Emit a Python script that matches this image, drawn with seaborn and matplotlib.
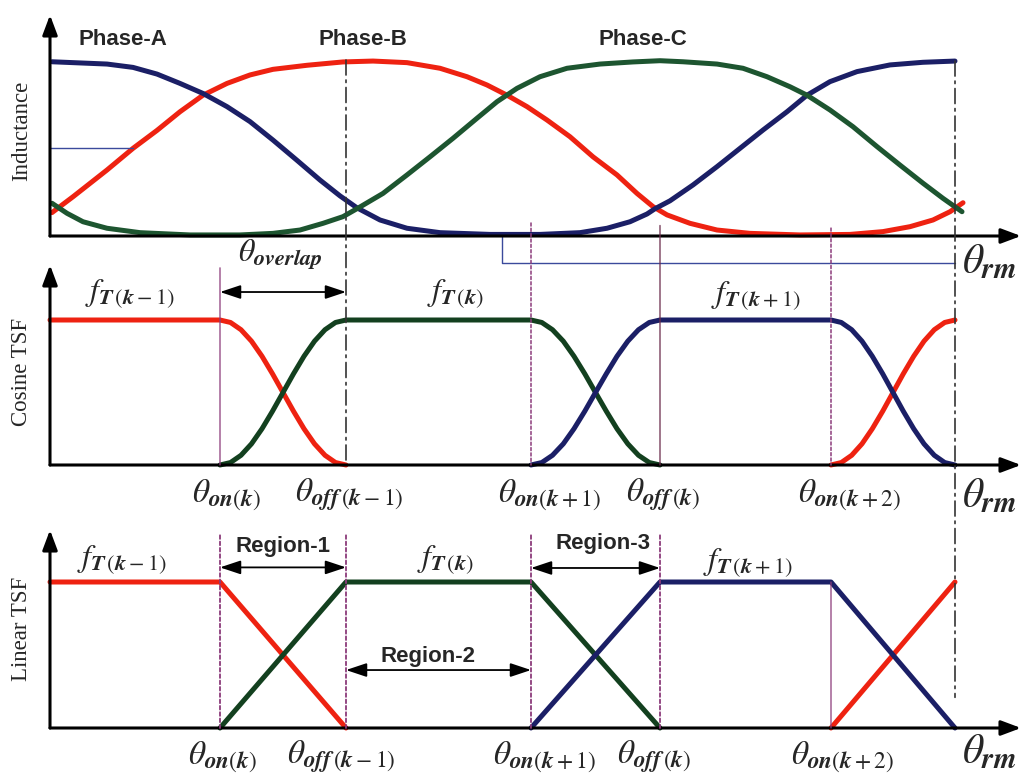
import matplotlib
matplotlib.use("Agg")
import matplotlib.pyplot as plt
from matplotlib.patches import ConnectionPatch
import seaborn as sns

sns.set_style("white")
plt.rcParams["font.family"] = ["Liberation Sans", "DejaVu Sans"]
plt.rcParams["mathtext.fontset"] = "stix"

RED = "#ee2211"
GREEN_TOP = "#1d5530"
GREEN = "#13401f"
NAVY = "#1b1f66"
PURPLE = "#8b3a7a"
GUIDE = "#3b4a9c"
LW = 3.6

# switching angles (mechanical degrees)
TH_ON_K = 17.0
TH_OFF_KM1 = 29.6
TH_ON_K1 = 48.1
TH_OFF_K = 61.0
TH_ON_K2 = 78.1
TH_END = 90.5
X_MAX = 97.1

# ---- phase inductance profiles (normalised) ----
ind_a_x = [0.2, 2.3, 5.7, 8.3, 10.7, 13.0, 15.3, 17.7, 20.0, 22.3, 24.7, 27.0, 29.0, 30.7,
           33.0, 35.7, 39.0, 44.0, 49.0, 53.0, 55.7, 58.0, 59.7, 60.5, 62.0, 64.3, 66.7,
           69.0, 71.3, 73.7, 75.7, 78.0, 80.7, 84.0, 87.3, 90.5]
ind_a_y = [0.99, 0.985, 0.977, 0.958, 0.92, 0.867, 0.81, 0.735, 0.65, 0.545, 0.43, 0.318,
           0.228, 0.16, 0.091, 0.044, 0.019, 0.009, 0.009, 0.019, 0.044, 0.081, 0.125, 0.155,
           0.20, 0.29, 0.394, 0.498, 0.602, 0.706, 0.80, 0.877, 0.934, 0.972, 0.987, 0.994]

ind_b_x = [0.2, 2.3, 5.7, 8.3, 10.7, 13.0, 15.3, 17.7, 20.0, 22.3, 25.7, 29.3, 32.3, 35.7,
           39.0, 41.7, 43.7, 45.7, 47.7, 49.7, 52.0, 54.3, 56.7, 58.7, 60.3, 61.7, 64.0,
           66.7, 70.0, 75.0, 80.0, 83.3, 86.0, 88.3, 90.0, 91.3]
ind_b_y = [0.133, 0.223, 0.375, 0.498, 0.60, 0.706, 0.80, 0.867, 0.915, 0.947, 0.97, 0.989,
           0.994, 0.985, 0.953, 0.905, 0.858, 0.80, 0.735, 0.659, 0.564, 0.45, 0.347, 0.242,
           0.167, 0.12, 0.072, 0.034, 0.015, 0.006, 0.009, 0.025, 0.053, 0.091, 0.138, 0.189]

ind_c_x = [0.2, 1.7, 3.3, 5.7, 9.0, 14.0, 19.0, 22.3, 25.0, 27.3, 29.3, 31.0, 33.3, 35.7,
           38.0, 40.3, 42.7, 44.7, 46.7, 49.0, 51.7, 55.0, 58.3, 61.0, 63.3, 66.7, 69.3,
           71.7, 74.0, 75.7, 78.0, 80.3, 82.7, 85.0, 87.3, 89.3, 91.2]
ind_c_y = [0.186, 0.129, 0.081, 0.044, 0.019, 0.006, 0.006, 0.015, 0.034, 0.072, 0.11, 0.165,
           0.242, 0.347, 0.45, 0.555, 0.669, 0.763, 0.839, 0.905, 0.953, 0.977, 0.989, 0.996,
           0.99, 0.977, 0.953, 0.905, 0.848, 0.80, 0.716, 0.621, 0.508, 0.403, 0.30, 0.214,
           0.138]

# ---- cosine torque sharing functions ----
cos_prev_x = [0.0, 17.0, 18.05, 19.1, 20.15, 21.2, 22.25, 23.3, 24.35, 25.4, 26.45, 27.5,
              28.55, 29.6]
cos_prev_y = [1.0, 1.0, 0.983, 0.933, 0.854, 0.75, 0.629, 0.5, 0.371, 0.25, 0.146, 0.067,
              0.017, 0.0]
cos_next2_x = [78.1, 79.13, 80.17, 81.2, 82.23, 83.27, 84.3, 85.33, 86.37, 87.4, 88.43,
               89.47, 90.5]
cos_next2_y = [0.0, 0.017, 0.067, 0.146, 0.25, 0.371, 0.5, 0.629, 0.75, 0.854, 0.933,
               0.983, 1.0]
cos_k_x = [17.0, 18.05, 19.1, 20.15, 21.2, 22.25, 23.3, 24.35, 25.4, 26.45, 27.5, 28.55, 29.6,
           48.1, 49.18, 50.25, 51.33, 52.4, 53.48, 54.55, 55.63, 56.7, 57.78, 58.85, 59.93, 61.0]
cos_k_y = [0.0, 0.017, 0.067, 0.146, 0.25, 0.371, 0.5, 0.629, 0.75, 0.854, 0.933, 0.983, 1.0,
           1.0, 0.983, 0.933, 0.854, 0.75, 0.629, 0.5, 0.371, 0.25, 0.146, 0.067, 0.017, 0.0]
cos_k1_x = [48.1, 49.18, 50.25, 51.33, 52.4, 53.48, 54.55, 55.63, 56.7, 57.78, 58.85, 59.93,
            61.0, 78.1, 79.13, 80.17, 81.2, 82.23, 83.27, 84.3, 85.33, 86.37, 87.4, 88.43,
            89.47, 90.5]
cos_k1_y = [0.0, 0.017, 0.067, 0.146, 0.25, 0.371, 0.5, 0.629, 0.75, 0.854, 0.933, 0.983, 1.0,
            1.0, 0.983, 0.933, 0.854, 0.75, 0.629, 0.5, 0.371, 0.25, 0.146, 0.067, 0.017, 0.0]

# ---- linear torque sharing functions ----
lin_prev_x = [0.0, 17.0, 29.6]
lin_prev_y = [1.0, 1.0, 0.0]
lin_next2_x = [78.1, 90.5]
lin_next2_y = [0.0, 1.0]
lin_k_x = [17.0, 29.6, 48.1, 61.0]
lin_k_y = [0.0, 1.0, 1.0, 0.0]
lin_k1_x = [48.1, 61.0, 78.1, 90.5]
lin_k1_y = [0.0, 1.0, 1.0, 0.0]

phase_names = ["Phase-A", "Phase-B", "Phase-C"]
phase_label_x = [7.3, 31.3, 59.3]
panel_labels = ["Inductance", "Cosine TSF", "Linear TSF"]
angle_labels = [r"$\theta_{\mathbfit{on}(\mathbfit{k})}$",
                r"$\theta_{\mathbfit{off}\,(\mathbfit{k}-1)}$",
                r"$\theta_{\mathbfit{on}(\mathbfit{k}+1)}$",
                r"$\theta_{\mathbfit{off}\,(\mathbfit{k})}$",
                r"$\theta_{\mathbfit{on}(\mathbfit{k}+2)}$"]
tsf_labels = [r"$f_{\mathbfit{T}\,(\mathbfit{k}-1)}$", r"$f_{\mathbfit{T}\,(\mathbfit{k})}$",
              r"$f_{\mathbfit{T}\,(\mathbfit{k}+1)}$"]
overlap_label = r"$\theta_{\mathbfit{overlap}}$"
rm_label = r"$\theta_{\mathbfit{rm}}$"
region_labels = ["Region-1", "Region-2", "Region-3"]

W, H = 1021, 781
fig = plt.figure(figsize=(W / 100, H / 100), dpi=100)


def make_axes(base_px, tip_px, unit_px):
    ax = fig.add_axes([50 / W, 1 - base_px / H, (W - 50) / W, (base_px - tip_px) / H])
    ax.set_xlim(0, X_MAX)
    ax.set_ylim(0, (base_px - tip_px) / unit_px)
    ax.set_axis_off()
    return ax


ax_top = make_axes(236, 15, 176)
ax_mid = make_axes(465, 265, 145)
ax_bot = make_axes(728, 530, 146)


def curve(ax, x, y, color, lw=LW):
    sns.lineplot(x=x, y=y, ax=ax, color=color, linewidth=lw, estimator=None,
                 sort=False, legend=False)
    line = ax.lines[-1]
    line.set_clip_on(False)
    line.set_solid_joinstyle("round")


def axis_arrows(ax):
    top = ax.get_ylim()[1]
    style = dict(arrowstyle="-|>,head_length=0.8,head_width=0.3", lw=2.2, color="black",
                 shrinkA=0, shrinkB=0, mutation_scale=15)
    ax.annotate("", xy=(X_MAX, 0), xytext=(0, 0), arrowprops=style, annotation_clip=False)
    ax.annotate("", xy=(0, top), xytext=(0, 0), arrowprops=style, annotation_clip=False)


def span_arrow(ax, x0, x1, y):
    ax.annotate("", xy=(x1, y), xytext=(x0, y),
                arrowprops=dict(arrowstyle="<|-|>,head_length=0.9,head_width=0.3", lw=1.3,
                                color="black", shrinkA=0, shrinkB=0, mutation_scale=14),
                annotation_clip=False)


def vline(axA, yA, axB, yB, x, color, ls, lw=1.0):
    con = ConnectionPatch(xyA=(x, yA), coordsA=axA.transData, xyB=(x, yB), coordsB=axB.transData,
                          color=color, linestyle=ls, linewidth=lw)
    fig.add_artist(con)


DASHDOT = (0, (9, 3, 1.5, 3))
DOTTED = (0, (2, 1.5))

# ---- guide lines spanning panels ----
vline(ax_top, 1.0, ax_mid, 0.0, TH_OFF_KM1, "#333333", DASHDOT, 1.2)
vline(ax_top, 0.994, ax_bot, 0.21, TH_END, "#333333", DASHDOT, 1.2)
vline(ax_mid, 1.36, ax_mid, 0.0, TH_ON_K, PURPLE, "-", 0.9)
vline(ax_top, 0.074, ax_mid, 0.0, TH_ON_K1, PURPLE, DOTTED, 1.1)
vline(ax_top, 0.06, ax_mid, 0.0, TH_OFF_K, "#6a2a4a", "-", 0.9)
vline(ax_top, 0.045, ax_mid, 0.0, TH_ON_K2, PURPLE, DOTTED, 1.1)
for xv in [TH_ON_K, TH_OFF_KM1, TH_ON_K1, TH_OFF_K]:
    vline(ax_bot, 1.32, ax_bot, 0.0, xv, PURPLE, DOTTED, 1.3)
vline(ax_bot, 1.0, ax_bot, 0.0, TH_ON_K2, PURPLE, "-", 0.9)

# ---- top panel: inductance ----
curve(ax_top, ind_b_x, ind_b_y, RED)
curve(ax_top, ind_a_x, ind_a_y, NAVY)
curve(ax_top, ind_c_x, ind_c_y, GREEN_TOP)
ax_top.plot([0, 8.3], [0.5, 0.5], color=GUIDE, lw=1.0, clip_on=False)
ax_top.plot([45.2, 45.2, TH_END], [0.0, -0.153, -0.153], color=GUIDE, lw=1.0, clip_on=False)
axis_arrows(ax_top)
for name, xp in zip(phase_names, phase_label_x):
    ax_top.text(xp, 1.114, name, ha="center", va="center", fontsize=16, fontweight="bold")
ax_top.text(91.2, -0.15, rm_label, ha="left", va="center", fontsize=30)

# ---- middle panel: cosine TSF ----
curve(ax_mid, cos_prev_x, cos_prev_y, RED)
curve(ax_mid, cos_next2_x, cos_next2_y, RED)
curve(ax_mid, cos_k_x, cos_k_y, GREEN)
curve(ax_mid, cos_k1_x, cos_k1_y, NAVY)
axis_arrows(ax_mid)
span_arrow(ax_mid, TH_ON_K, TH_OFF_KM1, 1.193)
ax_mid.text(23.0, 1.45, overlap_label, ha="center", va="center", fontsize=23)
for lab, xp, yp in zip(tsf_labels, [8.0, 40.6, 70.6], [1.18, 1.18, 1.166]):
    ax_mid.text(xp, yp, lab, ha="center", va="center", fontsize=23)
for lab, xp in zip(angle_labels, [17.6, 29.9, 50.0, 61.3, 80.0]):
    ax_mid.text(xp, -0.207, lab, ha="center", va="center", fontsize=24)
ax_mid.text(91.2, -0.214, rm_label, ha="left", va="center", fontsize=30)

# ---- bottom panel: linear TSF ----
curve(ax_bot, lin_prev_x, lin_prev_y, RED)
curve(ax_bot, lin_next2_x, lin_next2_y, RED)
curve(ax_bot, lin_k_x, lin_k_y, GREEN)
curve(ax_bot, lin_k1_x, lin_k1_y, NAVY)
axis_arrows(ax_bot)
span_arrow(ax_bot, TH_ON_K, TH_OFF_KM1, 1.10)
span_arrow(ax_bot, TH_OFF_KM1, TH_ON_K1, 0.397)
span_arrow(ax_bot, TH_ON_K1, TH_OFF_K, 1.096)
for lab, xp, yp in zip(region_labels, [23.3, 37.8, 55.3], [1.24, 0.493, 1.267]):
    ax_bot.text(xp, yp, lab, ha="center", va="center", fontsize=16, fontweight="bold")
for lab, xp, yp in zip(tsf_labels, [7.2, 39.6, 69.8], [1.15, 1.15, 1.13]):
    ax_bot.text(xp, yp, lab, ha="center", va="center", fontsize=23)
for lab, xp in zip(angle_labels, [17.2, 29.1, 49.5, 60.4, 79.3]):
    ax_bot.text(xp, -0.199, lab, ha="center", va="center", fontsize=24)
ax_bot.text(91.2, -0.164, rm_label, ha="left", va="center", fontsize=30)

# ---- panel titles on the vertical axes ----
for lab, yp in zip(panel_labels, [131, 372, 629]):
    fig.text(22 / W, 1 - yp / H, lab, rotation=90, ha="center", va="center",
             family="Liberation Serif", fontsize=16.5)

fig.savefig("out.png", dpi=100)
